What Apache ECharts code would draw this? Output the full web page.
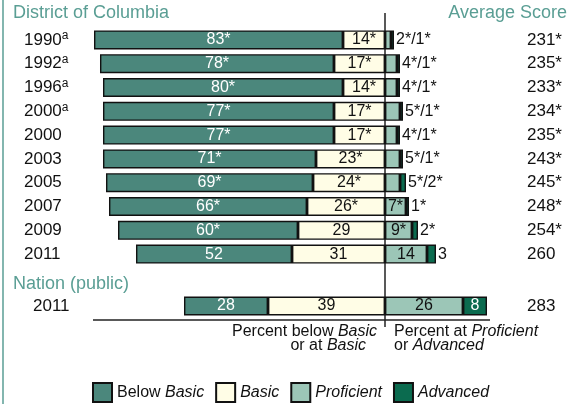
<!DOCTYPE html>
<html>
<head>
<meta charset="utf-8">
<script src="https://cdn.jsdelivr.net/npm/echarts@6/dist/echarts.min.js"></script>
<style>
  html, body { margin: 0; padding: 0; background: #fff; }
  #main { width: 573px; height: 404px; }
</style>
</head>
<body>
<div id="main"></div>
<script>
// District of Columbia rows (percent of students per achievement level)
const years = ['1990a', '1992a', '1996a', '2000a', '2000', '2003', '2005', '2007', '2009', '2011'];
const belowBasic = [83, 78, 80, 77, 77, 71, 69, 66, 60, 52];
const basic = [14, 17, 14, 17, 17, 23, 24, 26, 29, 31];
const proficient = [2, 4, 4, 5, 4, 5, 5, 7, 9, 14];
const advanced = [1, 1, 1, 1, 1, 1, 2, 1, 2, 3];
const belowBasicText = ['83*', '78*', '80*', '77*', '77*', '71*', '69*', '66*', '60*', '52'];
const basicText = ['14*', '17*', '14*', '17*', '17*', '23*', '24*', '26*', '29', '31'];
const proficientText = ['', '', '', '', '', '', '', '7*', '9*', '14'];
const outsideText = ['2*/1*', '4*/1*', '4*/1*', '5*/1*', '4*/1*', '5*/1*', '5*/2*', '1*', '2*', '3'];
const scores = ['231*', '235*', '233*', '234*', '235*', '243*', '245*', '248*', '254*', '260'];

// Nation (public)
const nationYears = ['2011'];
const nationBelowBasic = [28];
const nationBasic = [39];
const nationProficient = [26];
const nationAdvanced = [8];
const nationScores = ['283'];

const FONT = "'Liberation Sans', Arial, sans-serif";
const TEAL = '#5a9e94';
const COLORS = {
  'Below Basic': '#4b877c',
  'Basic': '#fffde6',
  'Proficient': '#9cc6b7',
  'Advanced': '#0b6b4f'
};

const chart = echarts.init(document.getElementById('main'));

// one bar series; negatives stack to the left of 0, positives to the right
function bar(name, grid, values, sign, label) {
  return {
    name: name,
    type: 'bar',
    xAxisIndex: grid,
    yAxisIndex: grid * 2,
    stack: 'lvl' + grid,
    barWidth: 19,
    data: values.map(v => v * sign),
    itemStyle: { color: COLORS[name], borderColor: '#111', borderWidth: 1.4 },
    label: Object.assign({ show: true, fontFamily: FONT, fontSize: 16 }, label),
    emphasis: { disabled: true }
  };
}

const yLabelRich = {
  y: { fontFamily: FONT, fontSize: 17, color: '#111', lineHeight: 20 },
  s: { fontFamily: FONT, fontSize: 12, color: '#111', verticalAlign: 'top', lineHeight: 12 }
};

function yearAxis(grid, data, margin) {
  return {
    type: 'category', gridIndex: grid, data: data, inverse: true,
    axisLine: { show: false }, axisTick: { show: false },
    axisLabel: {
      align: 'left', margin: margin,
      formatter: v => v.endsWith('a') ? '{y|' + v.slice(0, -1) + '}{s|a}' : '{y|' + v + '}',
      rich: yLabelRich
    }
  };
}

function scoreAxis(grid, data) {
  return {
    type: 'category', gridIndex: grid, data: data, inverse: true, position: 'right',
    axisLine: { show: false }, axisTick: { show: false },
    axisLabel: { align: 'left', margin: -38, fontFamily: FONT, fontSize: 17, color: '#111' }
  };
}

const xAxisBase = { type: 'value', min: -100, max: 60, show: false };

function rowSeries(grid, bb, ba, pr, ad, bbT, baT, prT, adLabel) {
  return [
    bar('Basic', grid, ba, -1, { position: 'inside', color: '#111', formatter: p => baT[p.dataIndex] }),
    bar('Below Basic', grid, bb, -1, { position: 'inside', color: '#fff', formatter: p => bbT[p.dataIndex] }),
    bar('Proficient', grid, pr, 1, { position: 'inside', color: '#111', formatter: p => prT[p.dataIndex] }),
    bar('Advanced', grid, ad, 1, adLabel)
  ];
}

const series = [].concat(
  rowSeries(0, belowBasic, basic, proficient, advanced, belowBasicText, basicText, proficientText,
    { position: 'right', distance: 2, color: '#111', formatter: p => outsideText[p.dataIndex] }),
  rowSeries(1, nationBelowBasic, nationBasic, nationProficient, nationAdvanced,
    nationBelowBasic.map(String), nationBasic.map(String), nationProficient.map(String),
    { position: 'inside', color: '#fff', formatter: p => String(nationAdvanced[p.dataIndex]) })
);

const italic = { fontFamily: FONT, fontSize: 16, fontStyle: 'italic', color: '#111' };

function text(x, y, str, align, extra) {
  return {
    type: 'text', x: x, y: y, silent: true,
    style: Object.assign({
      text: str, fontFamily: FONT, fontSize: 16, fill: '#111',
      align: align, verticalAlign: 'middle',
      rich: { i: { fontFamily: FONT, fontSize: 16, fontStyle: 'italic', fill: '#111' } }
    }, extra || {})
  };
}

chart.setOption({
  animation: false,
  grid: [
    { left: 85, right: 8, top: 28, height: 238 },
    { left: 85, right: 8, top: 294, height: 24 }
  ],
  xAxis: [Object.assign({ gridIndex: 0 }, xAxisBase), Object.assign({ gridIndex: 1 }, xAxisBase)],
  yAxis: [
    yearAxis(0, years, 61), scoreAxis(0, scores),
    yearAxis(1, nationYears, 52), scoreAxis(1, nationScores)
  ],
  legend: {
    data: ['Below Basic', 'Basic', 'Proficient', 'Advanced'],
    left: 92, top: 382, padding: 0,
    icon: 'rect', itemWidth: 19, itemHeight: 19, itemGap: 11,
    selectedMode: false,
    formatter: n => n === 'Below Basic' ? 'Below {i|Basic}' : '{i|' + n + '}',
    textStyle: { fontFamily: FONT, fontSize: 16, color: '#111', rich: { i: italic } }
  },
  series: series
});

// decorations placed from the value axis
const x0 = chart.convertToPixel({ xAxisIndex: 0 }, 0);
chart.setOption({
  graphic: [
    { type: 'line', silent: true, shape: { x1: 3, y1: 0, x2: 3, y2: 404 }, style: { stroke: TEAL, lineWidth: 1.5 } },
    { type: 'line', silent: true, shape: { x1: x0, y1: 13, x2: x0, y2: 327 }, style: { stroke: '#222', lineWidth: 1.5 } },
    { type: 'line', silent: true, shape: { x1: 93, y1: 320, x2: 490, y2: 320 }, style: { stroke: '#222', lineWidth: 1.5 } },
    text(13, 13, 'District of Columbia', 'left', { fontSize: 18, fill: TEAL }),
    text(567, 13, 'Average Score', 'right', { fontSize: 18, fill: TEAL }),
    text(13, 284, 'Nation (public)', 'left', { fontSize: 18, fill: TEAL }),
    text(x0 - 8, 332, 'Percent below {i|Basic}', 'right'),
    text(x0 - 19, 346, 'or at {i|Basic}', 'right'),
    text(x0 + 9, 332, 'Percent at {i|Proficient}', 'left'),
    text(x0 + 9, 346, 'or {i|Advanced}', 'left')
  ]
});
</script>
</body>
</html>
